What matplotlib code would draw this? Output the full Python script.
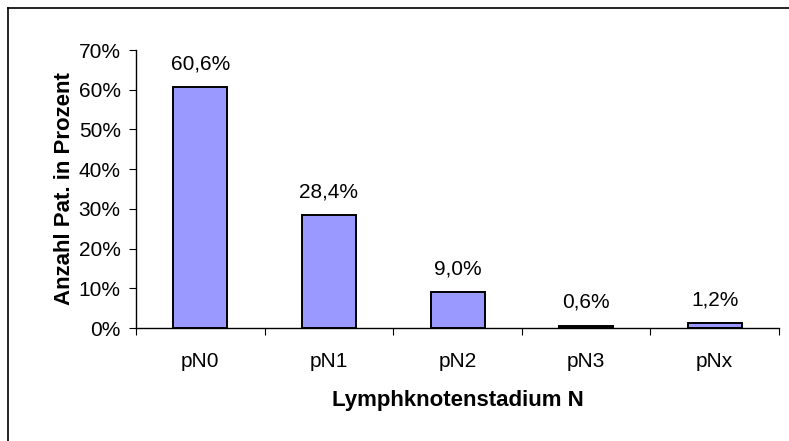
import matplotlib.pyplot as plt
from matplotlib.lines import Line2D
from matplotlib.ticker import FuncFormatter

categories = ['pN0', 'pN1', 'pN2', 'pN3', 'pNx']
values = [60.6, 28.4, 9.0, 0.6, 1.2]
bar_labels = ['60,6%', '28,4%', '9,0%', '0,6%', '1,2%']

plt.rcParams['font.family'] = ['Liberation Sans', 'DejaVu Sans']

fig = plt.figure(figsize=(7.89, 4.41), dpi=100)
ax = fig.add_axes([0.1724, 0.2562, 0.815, 0.6304])

x = list(range(len(categories)))
ax.bar(x, values, width=0.42, color='#9999FF', edgecolor='black', linewidth=1.4)

for xi, v, lab in zip(x, values, bar_labels):
    ax.annotate(lab, (xi, v), xytext=(0, 10), textcoords='offset points',
                ha='center', va='bottom', fontsize=15)

ax.set_xlim(-0.5, len(categories) - 0.5)
ax.set_ylim(0, 70)
ax.set_yticks(range(0, 71, 10))
ax.yaxis.set_major_formatter(FuncFormatter(lambda v, p: f'{int(v)}%'))

# ticks sit between categories, labels centred on bars
ax.set_xticks([i - 0.5 for i in range(len(categories) + 1)])
ax.set_xticklabels([])
ax.set_xticks(x, minor=True)
ax.set_xticklabels(categories, minor=True)
ax.tick_params(axis='x', which='minor', length=0, pad=17, labelsize=15)
ax.tick_params(axis='x', which='major', length=5, direction='out')
ax.tick_params(axis='y', length=5, direction='out', labelsize=15, pad=6)

for side in ['top', 'right']:
    ax.spines[side].set_visible(False)
ax.spines['left'].set_linewidth(1.0)
ax.spines['bottom'].set_linewidth(1.0)

ax.set_ylabel('Anzahl Pat. in Prozent', fontsize=16, fontweight='bold', labelpad=3)
ax.set_xlabel('Lymphknotenstadium N', fontsize=16, fontweight='bold', labelpad=14)

# outer frame (only top and left edges visible)
fig.add_artist(Line2D([8 / 789, 1], [1 - 8 / 441, 1 - 8 / 441], color='black', lw=1.2,
                      transform=fig.transFigure))
fig.add_artist(Line2D([8 / 789, 8 / 789], [0, 1 - 8 / 441], color='black', lw=1.2,
                      transform=fig.transFigure))

plt.savefig('out.png', dpi=100)
